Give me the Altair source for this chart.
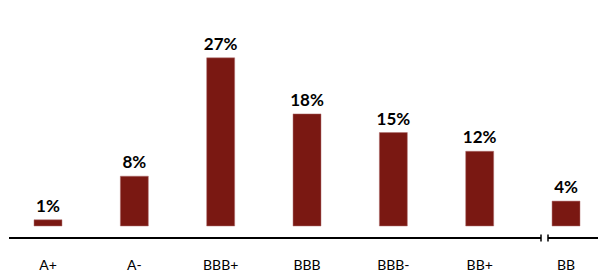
import altair as alt
import pandas as pd

categories = ["A+", "A-", "BBB+", "BBB", "BBB-", "BB+", "BB"]
values = [1, 8, 27, 18, 15, 12, 4]
labels = ["1%", "8%", "27%", "18%", "15%", "12%", "4%"]

df = pd.DataFrame({"cat": categories, "val": values, "lab": labels})

BAR = "#7A1812"
FONT = "Lato"

x = alt.X("cat:N", sort=categories,
          scale=alt.Scale(paddingInner=0.676, paddingOuter=0.2606, align=0.578),
          axis=alt.Axis(title=None, domain=False, ticks=False, labelAngle=0,
                        labelPadding=32, labelFontSize=14, labelFont=FONT,
                        labelColor="#000000", labelFontWeight="normal"))
y = alt.Y("val:Q", scale=alt.Scale(domain=[0, 35]), axis=None)

base = alt.Chart(df)
bars = base.mark_bar(color=BAR, stroke="#b07070", strokeWidth=0.5).encode(x=x, y=y)
text = base.mark_text(baseline="alphabetic", dy=-8, fontSize=17, fontWeight="bold",
                      font=FONT, color="#000000").encode(x=x, y=y, text="lab:N")

one = pd.DataFrame({"a": [0]})
line1 = alt.Chart(one).mark_rule(color="#000000", strokeWidth=2).encode(
    x=alt.value(1), x2=alt.value(533), y=alt.value(230))
line2 = alt.Chart(one).mark_rule(color="#000000", strokeWidth=2).encode(
    x=alt.value(540), x2=alt.value(590), y=alt.value(230))
tick1 = alt.Chart(one).mark_rule(color="#000000", strokeWidth=1.5).encode(
    x=alt.value(533), y=alt.value(226.5), y2=alt.value(233.5))
tick2 = alt.Chart(one).mark_rule(color="#000000", strokeWidth=1.5).encode(
    x=alt.value(540), y=alt.value(226.5), y2=alt.value(233.5))

chart = alt.layer(bars, text, line1, line2, tick1, tick2).properties(
    width=591, height=218, padding=0, background="#ffffff"
).configure_view(strokeWidth=0)

chart.save("out.html", embed_options={"renderer": "svg", "actions": False})
